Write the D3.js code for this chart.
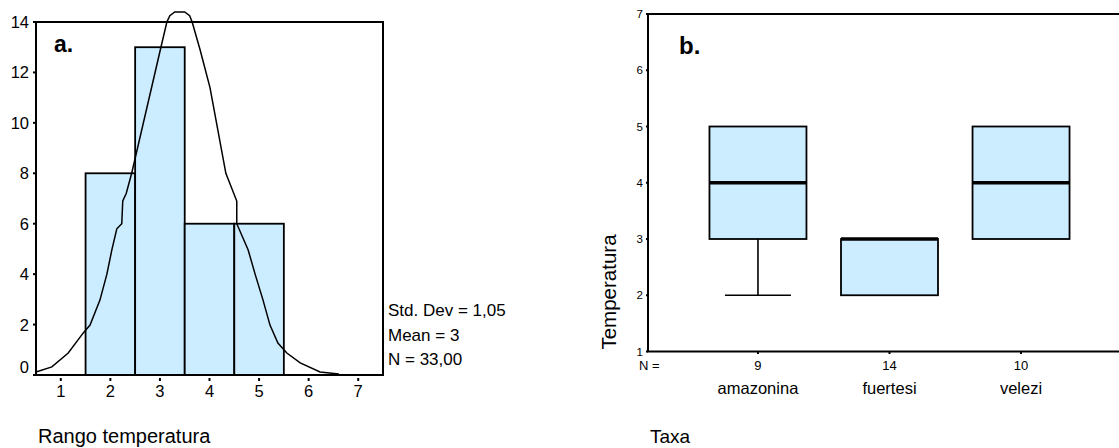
<!DOCTYPE html>
<html>
<head>
<meta charset="utf-8">
<script src="https://cdn.jsdelivr.net/npm/d3@7"></script>
<style>
  body { margin: 0; background: #fff; }
  svg { display: block; font-family: "Liberation Sans", Arial, sans-serif; }
</style>
</head>
<body>
<svg id="chart" width="1119" height="448"></svg>
<script>
'use strict';

// ---- panel a: histogram of temperature range ----
var binStarts = [1.5, 2.5, 3.5, 4.5];
var binCounts = [8, 13, 6, 6];
var histTicksX = [1, 2, 3, 4, 5, 6, 7];
var histTicksY = [0, 2, 4, 6, 8, 10, 12, 14];
// fitted normal curve: [x, count]
var curveX = [0.5, 0.82, 1.15, 1.45, 1.59, 1.79, 1.93, 2.03, 2.13, 2.23, 2.25, 2.32, 2.43,
  3.02, 3.14, 3.2, 3.3, 3.5, 3.6, 3.65, 3.81, 4.01, 4.33, 4.55, 4.55, 4.78, 4.92, 5.08,
  5.22, 5.38, 5.56, 5.83, 6.23, 6.61];
var curveY = [0.12, 0.32, 0.87, 1.66, 1.98, 2.97, 4.0, 4.96, 5.8, 6.0, 6.9, 7.2, 8.0,
  13.0, 14.0, 14.25, 14.4, 14.4, 14.25, 14.0, 12.9, 11.4, 8.0, 6.9, 6.0, 4.96, 4.0, 2.97,
  1.98, 1.27, 0.87, 0.48, 0.12, 0.04];
var statsLines = ["Std. Dev = 1,05", "Mean = 3", "N = 33,00"];

// ---- panel b: boxplots by taxa ----
var taxa = ["amazonina", "fuertesi", "velezi"];
var taxaN = [9, 14, 10];
var boxQ1 = [3, 2, 3];
var boxMed = [4, 3, 4];
var boxQ3 = [5, 3, 5];
var boxMin = [2, 2, 3];
var boxMax = [5, 3, 5];
var boxTicksY = [1, 2, 3, 4, 5, 6, 7];

var fill = "#CCECFF";
var svg = d3.select("#chart");

// ===== panel a =====
var ax = d3.scaleLinear().domain([0.5, 7.5]).range([36, 383]);
var ay = d3.scaleLinear().domain([0, 14]).range([375, 22]);

var gA = svg.append("g");

gA.selectAll(".bar")
  .data(binStarts)
  .enter().append("rect")
  .attr("class", "bar")
  .attr("x", function(d) { return ax(d); })
  .attr("y", function(d, i) { return ay(binCounts[i]); })
  .attr("width", function(d) { return ax(d + 1) - ax(d); })
  .attr("height", function(d, i) { return ay(0) - ay(binCounts[i]); })
  .attr("fill", fill)
  .attr("stroke", "#000")
  .attr("stroke-width", 1.8);

var curvePts = curveX.map(function(x, i) { return [x, curveY[i]]; });
var line = d3.line()
  .x(function(d) { return ax(d[0]); })
  .y(function(d) { return ay(d[1]); });
gA.append("path")
  .datum(curvePts)
  .attr("d", line)
  .attr("fill", "none")
  .attr("stroke", "#000")
  .attr("stroke-width", 1.5);

gA.append("rect")
  .attr("x", ax(0.5)).attr("y", ay(14))
  .attr("width", ax(7.5) - ax(0.5)).attr("height", ay(0) - ay(14))
  .attr("fill", "none").attr("stroke", "#000").attr("stroke-width", 2);

// y ticks
gA.selectAll(".ytick")
  .data(histTicksY)
  .enter().append("line")
  .attr("x1", 33).attr("x2", 36)
  .attr("y1", function(d) { return ay(d); })
  .attr("y2", function(d) { return ay(d); })
  .attr("stroke", "#000").attr("stroke-width", 2);
gA.selectAll(".ylab")
  .data(histTicksY)
  .enter().append("text")
  .attr("x", 29)
  .attr("y", function(d) { return d === 0 ? ay(d) - 2 : ay(d) + 6; })
  .attr("text-anchor", "end")
  .attr("font-size", 16.5)
  .text(function(d) { return d; });

// x ticks
gA.selectAll(".xtick")
  .data(histTicksX)
  .enter().append("line")
  .attr("x1", function(d) { return ax(d); })
  .attr("x2", function(d) { return ax(d); })
  .attr("y1", 378).attr("y2", 381)
  .attr("stroke", "#000").attr("stroke-width", 2);
gA.selectAll(".xlab")
  .data(histTicksX)
  .enter().append("text")
  .attr("x", function(d) { return ax(d); })
  .attr("y", 397)
  .attr("text-anchor", "middle")
  .attr("font-size", 16.5)
  .text(function(d) { return d; });

gA.append("text")
  .attr("x", 54).attr("y", 52)
  .attr("font-size", 23).attr("font-weight", "bold")
  .text("a.");

gA.selectAll(".stat")
  .data(statsLines)
  .enter().append("text")
  .attr("x", 388)
  .attr("y", function(d, i) { return 316 + i * 24.5; })
  .attr("font-size", 17)
  .text(function(d) { return d; });

gA.append("text")
  .attr("x", 38).attr("y", 443)
  .attr("font-size", 20)
  .text("Rango temperatura");

// ===== panel b =====
var bx = d3.scalePoint().domain(taxa).range([648, 1131]).padding(0.836);
var by = d3.scaleLinear().domain([1, 7]).range([351.5, 14]);
var boxW = 97;

var gB = svg.append("g");

// frame (right side runs off the page)
gB.append("rect")
  .attr("x", 648).attr("y", by(7))
  .attr("width", 1131 - 648).attr("height", by(1) - by(7))
  .attr("fill", "none").attr("stroke", "#000").attr("stroke-width", 2);

var box = gB.selectAll(".box")
  .data(taxa)
  .enter().append("g")
  .attr("class", "box");

// whiskers
box.each(function(d, i) {
  var g = d3.select(this);
  var cx = bx(d);
  if (boxMin[i] < boxQ1[i]) {
    g.append("line").attr("x1", cx).attr("x2", cx)
      .attr("y1", by(boxQ1[i])).attr("y2", by(boxMin[i]))
      .attr("stroke", "#000").attr("stroke-width", 1.6);
    g.append("line").attr("x1", cx - 33).attr("x2", cx + 33)
      .attr("y1", by(boxMin[i])).attr("y2", by(boxMin[i]))
      .attr("stroke", "#000").attr("stroke-width", 1.6);
  }
  if (boxMax[i] > boxQ3[i]) {
    g.append("line").attr("x1", cx).attr("x2", cx)
      .attr("y1", by(boxQ3[i])).attr("y2", by(boxMax[i]))
      .attr("stroke", "#000").attr("stroke-width", 1.6);
    g.append("line").attr("x1", cx - 33).attr("x2", cx + 33)
      .attr("y1", by(boxMax[i])).attr("y2", by(boxMax[i]))
      .attr("stroke", "#000").attr("stroke-width", 1.6);
  }
});

box.append("rect")
  .attr("x", function(d) { return bx(d) - boxW / 2; })
  .attr("y", function(d, i) { return by(boxQ3[i]); })
  .attr("width", boxW)
  .attr("height", function(d, i) { return by(boxQ1[i]) - by(boxQ3[i]); })
  .attr("fill", fill).attr("stroke", "#000").attr("stroke-width", 1.8);

box.append("line")
  .attr("x1", function(d) { return bx(d) - boxW / 2; })
  .attr("x2", function(d) { return bx(d) + boxW / 2; })
  .attr("y1", function(d, i) { return by(boxMed[i]); })
  .attr("y2", function(d, i) { return by(boxMed[i]); })
  .attr("stroke", "#000").attr("stroke-width", 3.5);

// y ticks
gB.selectAll(".ytick")
  .data(boxTicksY)
  .enter().append("line")
  .attr("x1", 646).attr("x2", 648)
  .attr("y1", function(d) { return by(d); })
  .attr("y2", function(d) { return by(d); })
  .attr("stroke", "#000").attr("stroke-width", 2);
gB.selectAll(".ylab")
  .data(boxTicksY)
  .enter().append("text")
  .attr("x", 643)
  .attr("y", function(d) { return by(d) + 4; })
  .attr("text-anchor", "end")
  .attr("font-size", 11.5)
  .text(function(d) { return d; });

// x ticks
gB.selectAll(".xtick")
  .data(taxa)
  .enter().append("line")
  .attr("x1", function(d) { return bx(d); })
  .attr("x2", function(d) { return bx(d); })
  .attr("y1", 352).attr("y2", 354)
  .attr("stroke", "#000").attr("stroke-width", 2);

gB.append("text")
  .attr("x", 639).attr("y", 370)
  .attr("font-size", 13)
  .text("N =");
gB.selectAll(".nlab")
  .data(taxa)
  .enter().append("text")
  .attr("x", function(d) { return bx(d); })
  .attr("y", 370)
  .attr("text-anchor", "middle")
  .attr("font-size", 13)
  .text(function(d, i) { return taxaN[i]; });
gB.selectAll(".clab")
  .data(taxa)
  .enter().append("text")
  .attr("x", function(d) { return bx(d); })
  .attr("y", 394)
  .attr("text-anchor", "middle")
  .attr("font-size", 16.5)
  .text(function(d) { return d; });

gB.append("text")
  .attr("x", 679).attr("y", 54)
  .attr("font-size", 24).attr("font-weight", "bold")
  .text("b.");

gB.append("text")
  .attr("transform", "translate(616,292) rotate(-90)")
  .attr("text-anchor", "middle")
  .attr("font-size", 20.5)
  .text("Temperatura");

gB.append("text")
  .attr("x", 650).attr("y", 443)
  .attr("font-size", 19)
  .text("Taxa");
</script>
</body>
</html>
